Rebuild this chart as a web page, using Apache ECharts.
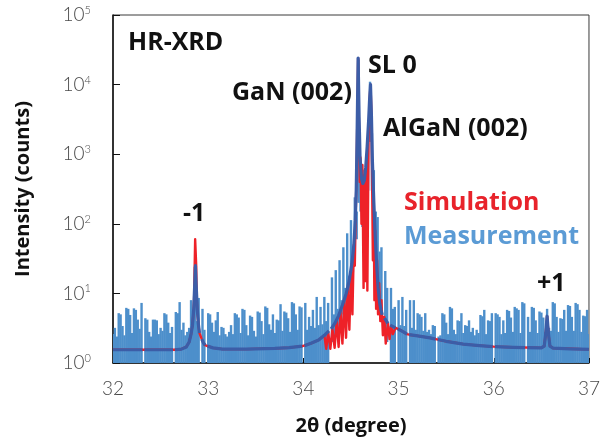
<!DOCTYPE html>
<html>
<head>
<meta charset="utf-8">
<script src="https://cdn.jsdelivr.net/npm/echarts@6/dist/echarts.min.js"></script>
<style>
  html, body { margin: 0; padding: 0; background: #fff; }
  #chart { width: 603px; height: 443px; }
</style>
</head>
<body>
<div id="chart"></div>
<script>
// Measured HR-XRD counts: upper edge of the noise band per 0.02° bin from 32° (null = zero counts)
const measStart = 32;
const measStep = 0.02;
const measTop = [
  2.6, 3.2, 2.4, 5.2, 5.0, 3.4, 2.5, 6.2, 6.0, 4.9,        // 32.00
  2.7, 6.1, 5.8, 4.2, 3.1, 7.3, null, 4.4, 4.2, 2.8,       // 32.20
  2.4, 4.2, 4.2, 4.1, 2.6, 3.2, 2.9, 5.2, 5.0, 3.8,        // 32.40
  2.7, 3.3, null, 5.4, 5.2, 7.5, 3, 3.8, 2.5, 2.8,         // 32.60
  3.2, 8, 3.5, 24, 4, 8.6, null, 6, 3, null,               // 32.80
  5.2, 5.0, 3.8, 2.8, 4.1, 5.4, 2.5, 3.3, 3.2, 2.6,        // 33.00
  2.4, 2.8, 3.5, 2.6, 5.2, 5.0, 4.5, 2.7, 6, 5.8,          // 33.20
  3.5, 2.5, 4.8, 4.6, 2.9, 2.4, 5.5, 5.3, 4, 2.6,          // 33.40
  6.5, 6.2, 3.6, 3, 5, 2.7, 4.2, 4.1, 7, 2.9,              // 33.60
  5.5, 5.3, 4.4, 2.8, 7.5, 7.2, 5, 3, 6.5, 6.3,            // 33.80
  null, 7.3, 3, 4.6, 3.4, 5.8, 3.2, 8.9, 3.5, 6.4,         // 34.00
  3.6, 8.9, 4, 7.3, null, 17, 5, 21.6, 6, 30,              // 34.20
  8, 46, 12, 73, 18, 113, 30, 240, 150, 23000,             // 34.40
  700, 300, 600, 400, 1500, 11000, 2000, 590, 150, 125,    // 34.60
  40, 46, null, 21, 12, null, 12, 6, 6.4, null,            // 34.80
  8, 3.5, 8.9, 3.4, 5.8, null, 8, 3.2, 8, 3,               // 35.00
  5.2, 5.0, 4.6, 2.9, 5.2, 2.8, 3, 2.6, 3.5, 3.4,          // 35.20
  null, 2.4, 2.5, 5.2, 5.0, 3.8, 2.6, 6.4, 6.1, 3,         // 35.40
  2.6, 4.1, 4.0, 5.2, 2.7, 3.5, 3.4, 4.1, 2.8, 3.2,        // 35.60
  2.5, 3, 2.7, 4.9, 4.7, 5.8, 2.6, 4.1, 4.0, 5.2,          // 35.80
  null, 5.2, 5.0, 4.6, 2.6, 4.1, 2.7, 5.8, 5.6, 4.5,       // 36.00
  2.8, 6.4, 6.1, 5.8, 2.7, 7.5, 7.2, null, 4.6, 2.8,       // 36.20
  6.4, 6.2, 4.1, 2.7, 5.5, 5.3, 4.5, 2.8, 6, 3.2,          // 36.40
  2.9, 7.5, 7.2, 4.6, 2.8, 4.4, 4.3, 5.8, 2.9, 6.8,        // 36.60
  6.6, 4.6, 2.9, 7.3, 7.0, 5.8, 2.8, 4.8, 4.7, 5.8, 2.6    // 36.80
];

// Lower edge of the noise band near the Bragg peaks (elsewhere the band reaches 1 count)
const measFloor = {
  '34.30': 2, '34.32': 2.2, '34.34': 2.5, '34.36': 2.8, '34.38': 3.2,
  '34.40': 4, '34.42': 5, '34.44': 6, '34.46': 8, '34.48': 10,
  '34.50': 14, '34.52': 20, '34.54': 35, '34.56': 60, '34.58': 200,
  '34.60': 150, '34.62': 90, '34.64': 100, '34.66': 150, '34.68': 300,
  '34.70': 1500, '34.72': 300, '34.74': 40, '34.76': 20, '34.78': 12,
  '34.80': 8, '34.82': 4, '34.86': 2.5, '34.88': 2
};

// Simulated superlattice profile [2θ, intensity]
const simulation = [
  [32.00, 1.55], [32.70, 1.55], [32.72, 1.58], [32.77, 1.7], [32.80, 2.0], [32.82, 2.6],
  [32.835, 3.5], [32.846, 5.5], [32.852, 8], [32.858, 25], [32.863, 60], [32.869, 60],
  [32.874, 25], [32.880, 8], [32.886, 5.5], [32.897, 3.6], [32.908, 2.7], [32.932, 2.2],
  [32.95, 1.95], [32.968, 1.8], [32.992, 1.75], [33.05, 1.65], [33.15, 1.58], [33.40, 1.58],
  [33.70, 1.62], [33.85, 1.66], [33.99, 1.75], [34.08, 1.92], [34.16, 2.14], [34.22, 2.5],
  [34.24, 1.6], [34.26, 2.8], [34.283, 1.6], [34.305, 3.1], [34.328, 1.65], [34.35, 4.1],
  [34.37, 1.7], [34.39, 5.5], [34.41, 1.9], [34.43, 8], [34.448, 2.3], [34.465, 12],
  [34.483, 3], [34.50, 20], [34.515, 5], [34.53, 50], [34.54, 25], [34.55, 150],
  [34.558, 470], [34.566, 3000], [34.575, 24000], [34.583, 3000], [34.592, 400],
  [34.600, 900], [34.610, 100], [34.620, 700], [34.632, 12], [34.642, 500], [34.652, 15],
  [34.662, 900], [34.672, 11], [34.684, 1500], [34.696, 6000], [34.705, 10000],
  [34.714, 4000], [34.722, 400], [34.730, 30], [34.738, 200], [34.746, 8], [34.754, 80],
  [34.764, 6], [34.774, 30], [34.784, 5], [34.796, 14], [34.808, 4], [34.820, 8],
  [34.835, 2.5], [34.850, 4.6], [34.865, 1.9], [34.888, 3.7], [34.905, 2.2], [34.92, 3.4],
  [34.94, 2.6], [34.968, 3.2], [34.992, 3.1], [35.05, 2.8], [35.088, 2.6], [35.112, 2.55],
  [35.20, 2.45], [35.33, 2.3], [35.50, 2.05], [35.68, 1.87], [35.85, 1.78], [36.00, 1.72],
  [36.20, 1.68], [36.50, 1.65], [36.53, 1.75], [36.545, 2.6], [36.56, 4.7], [36.575, 2.6],
  [36.59, 1.75], [36.62, 1.64], [36.80, 1.6], [37.00, 1.57]
];

// Smoothed measurement curve [2θ, intensity]; null breaks where the scan has zero counts
const measSmooth = [
  [32.00, 1.55], [32.31, 1.55], [32.32, null], [32.33, 1.55], [32.63, 1.55], [32.64, null],
  [32.65, 1.55], [32.72, 1.58], [32.77, 1.7], [32.80, 2.0], [32.82, 2.6], [32.835, 3.5],
  [32.848, 6], [32.857, 12], [32.866, 25], [32.875, 12], [32.885, 6], [32.897, 3.6],
  [32.908, 2.7], [32.92, null], [32.932, 2.2], [32.95, 1.95], [32.968, 1.8], [32.98, null],
  [32.992, 1.75], [33.05, 1.65], [33.15, 1.58], [33.40, 1.58], [33.70, 1.62], [33.85, 1.66],
  [33.988, 1.75], [34.00, null], [34.012, 1.77], [34.08, 1.92], [34.16, 2.14], [34.22, 2.5],
  [34.268, 2.9], [34.28, null], [34.292, 3.1], [34.33, 3.7], [34.37, 4.8], [34.41, 6.8],
  [34.45, 10], [34.48, 15], [34.51, 27], [34.53, 50], [34.545, 110], [34.555, 300],
  [34.563, 1500], [34.575, 24000], [34.585, 3500], [34.595, 900], [34.61, 450],
  [34.625, 380], [34.64, 420], [34.655, 650], [34.67, 1300], [34.685, 3000], [34.695, 6000],
  [34.705, 10000], [34.715, 3500], [34.725, 800], [34.74, 200], [34.755, 65], [34.77, 25],
  [34.785, 12], [34.80, 7.5], [34.815, 5.8], [34.828, 4.9], [34.84, null], [34.852, 4.4],
  [34.888, 3.7], [34.90, null], [34.912, 3.5], [34.968, 3.2], [34.98, null], [34.992, 3.1],
  [35.05, 2.8], [35.088, 2.6], [35.10, null], [35.112, 2.55], [35.20, 2.45], [35.33, 2.3],
  [35.388, 2.2], [35.40, null], [35.412, 2.18], [35.50, 2.05], [35.68, 1.87], [35.85, 1.78],
  [35.988, 1.72], [36.00, null], [36.012, 1.72], [36.20, 1.68], [36.328, 1.66], [36.34, null],
  [36.352, 1.66], [36.50, 1.65], [36.53, 1.75], [36.545, 2.6], [36.56, 4.7], [36.575, 2.6],
  [36.59, 1.75], [36.62, 1.64], [36.80, 1.6], [37.00, 1.57]
];

const xRange = [32, 37];
const yRange = [1, 100000];

// Band per bin: [2θ, lower edge, upper edge]; empty bins are left out
const measBand = [];
measTop.forEach((top, i) => {
  if (top === null) return;
  const x = (measStart + i * measStep).toFixed(2);
  const floor = measFloor[x] !== undefined ? measFloor[x] : yRange[0];
  measBand.push([+x, floor, top]);
});

const tickColor = '#4a4a4a';
const chart = echarts.init(document.getElementById('chart'), null, { renderer: 'canvas' });

chart.setOption({
  animation: false,
  backgroundColor: '#ffffff',
  grid: {
    left: 113, right: 10, top: 15, bottom: 80,
    show: true, borderColor: '#3a3a3a', borderWidth: 1, backgroundColor: 'transparent'
  },
  xAxis: {
    type: 'value',
    min: xRange[0], max: xRange[1], interval: 1,
    name: '2θ (degree)',
    nameLocation: 'middle',
    nameGap: 53,
    nameTextStyle: { fontFamily: 'Open Sans', fontWeight: 'bold', fontSize: 20, color: '#111' },
    axisLine: { lineStyle: { color: '#111', width: 1.5 } },
    axisTick: { inside: true, length: 5, lineStyle: { color: '#111' } },
    axisLabel: { margin: 16, fontFamily: 'Lato', fontWeight: 300, fontSize: 19, color: tickColor },
    splitLine: { show: false }
  },
  yAxis: {
    type: 'log',
    logBase: 10,
    min: yRange[0], max: yRange[1],
    name: 'Intensity (counts)',
    nameLocation: 'middle',
    nameRotate: 90,
    nameGap: 80,
    nameTextStyle: { fontFamily: 'Open Sans', fontWeight: 'bold', fontSize: 20, color: '#111' },
    axisLine: { show: true, lineStyle: { color: '#111', width: 1.5 } },
    axisTick: { show: true, inside: true, length: 7, lineStyle: { color: '#111' } },
    axisLabel: {
      margin: 22,
      formatter: v => '{b|10}{s|' + Math.round(Math.log10(v)) + '}',
      rich: {
        b: { fontFamily: 'Lato', fontWeight: 300, fontSize: 19, color: tickColor, lineHeight: 20 },
        s: { fontFamily: 'Lato', fontWeight: 300, fontSize: 11, color: tickColor, lineHeight: 12, verticalAlign: 'top' }
      }
    },
    splitLine: { show: false }
  },
  series: [
    {
      name: 'Measurement',
      type: 'custom',
      data: measBand,
      encode: { x: 0, y: [1, 2] },
      clip: true,
      z: 2,
      renderItem: function (params, api) {
        const x = api.value(0);
        const a = api.coord([x - measStep / 2, api.value(2)]);
        const b = api.coord([x + measStep / 2, api.value(1)]);
        return {
          type: 'rect',
          shape: { x: a[0] - 0.25, y: a[1], width: b[0] - a[0] + 0.5, height: b[1] - a[1] },
          style: { fill: '#4d8fcb' }
        };
      }
    },
    {
      name: 'Simulation',
      type: 'line',
      data: simulation,
      showSymbol: false,
      lineStyle: { color: '#ee2128', width: 2.4, join: 'round' },
      z: 3
    },
    {
      name: 'Measurement (smoothed)',
      type: 'line',
      data: measSmooth,
      showSymbol: false,
      connectNulls: false,
      lineStyle: { color: '#3c5da7', width: 3.2, join: 'round' },
      z: 4
    }
  ],
  graphic: [
    { type: 'text', x: 128, y: 43, z: 10, style: { text: 'HR-XRD', fontFamily: 'Open Sans', fontWeight: 'bold', fontSize: 25, fill: '#111', align: 'left', verticalAlign: 'middle' } },
    { type: 'text', x: 232, y: 93, z: 10, style: { text: 'GaN (002)', fontFamily: 'Open Sans', fontWeight: 'bold', fontSize: 25, fill: '#111', align: 'left', verticalAlign: 'middle' } },
    { type: 'text', x: 368, y: 66, z: 10, style: { text: 'SL 0', fontFamily: 'Open Sans', fontWeight: 'bold', fontSize: 25, fill: '#111', align: 'left', verticalAlign: 'middle' } },
    { type: 'text', x: 383, y: 129, z: 10, style: { text: 'AlGaN (002)', fontFamily: 'Open Sans', fontWeight: 'bold', fontSize: 25, fill: '#111', align: 'left', verticalAlign: 'middle' } },
    { type: 'text', x: 404, y: 203, z: 10, style: { text: 'Simulation', fontFamily: 'Open Sans', fontWeight: 'bold', fontSize: 25, fill: '#e8232b', align: 'left', verticalAlign: 'middle' } },
    { type: 'text', x: 404, y: 237, z: 10, style: { text: 'Measurement', fontFamily: 'Open Sans', fontWeight: 'bold', fontSize: 25, fill: '#5b9bd5', align: 'left', verticalAlign: 'middle' } },
    { type: 'text', x: 183, y: 214, z: 10, style: { text: '-1', fontFamily: 'Open Sans', fontWeight: 'bold', fontSize: 25, fill: '#111', align: 'left', verticalAlign: 'middle' } },
    { type: 'text', x: 537, y: 284, z: 10, style: { text: '+1', fontFamily: 'Open Sans', fontWeight: 'bold', fontSize: 25, fill: '#111', align: 'left', verticalAlign: 'middle' } }
  ]
});
</script>
</body>
</html>
